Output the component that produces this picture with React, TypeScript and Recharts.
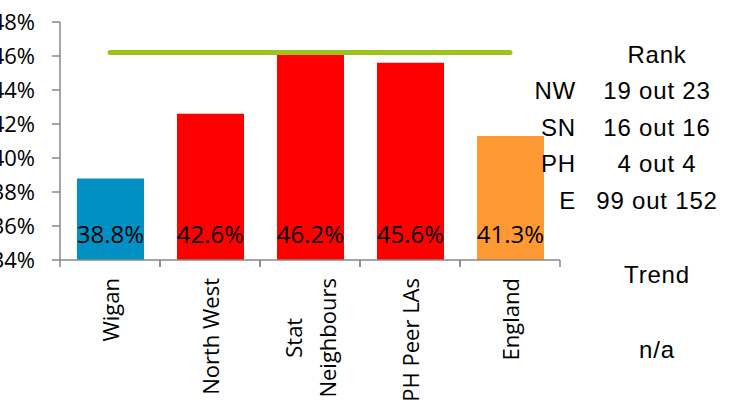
import { ComposedChart, Bar, Line, XAxis, YAxis, Cell, LabelList } from "recharts";

const categories = ["Wigan", "North West", "Stat\nNeighbours", "PH Peer LAs", "England"];
const rates = [38.8, 42.6, 46.2, 45.6, 41.3];
const benchmark = [46.2, 46.2, 46.2, 46.2, 46.2];
const barColors = ["#0090c4", "#ff0000", "#ff0000", "#ff0000", "#ff9933"];
const yTicks = [34, 36, 38, 40, 42, 44, 46, 48];
const rankGroups = ["NW", "SN", "PH", "E"];
const rankValues = ["19 out 23", "16 out 16", "4 out 4", "99 out 152"];
const trendValue = "n/a";

const data = categories.map((name, i) => ({ name, rate: rates[i], benchmark: benchmark[i] }));

const axisGrey = "#888888";
const labelFont = "22px 'Open Sans'";

let ctx: CanvasRenderingContext2D | null = null;
function textWidth(s: string) {
  if (!ctx) ctx = document.createElement("canvas").getContext("2d");
  if (!ctx) return s.length * 11;
  ctx.font = labelFont;
  return ctx.measureText(s).width;
}

// rotated category labels + tick marks between categories (Excel style)
function CategoryTick(props: any) {
  const { x, y, payload } = props;
  const half = payload.offset ?? 0;
  const lines = String(payload.value).split("\n");
  const widest = Math.max(...lines.map(textWidth));
  const mid = -18 - widest / 2;
  const gap = 34;
  return (
    <g>
      <line x1={x - half} x2={x - half} y1={y} y2={y + 7} stroke={axisGrey} strokeWidth={1.5} />
      <line x1={x + half} x2={x + half} y1={y} y2={y + 7} stroke={axisGrey} strokeWidth={1.5} />
      <g transform={`translate(${x},${y}) rotate(-90)`}>
        {lines.map((l, i) => (
          <text
            key={i}
            x={mid}
            y={(i - (lines.length - 1) / 2) * gap}
            textAnchor="middle"
            dominantBaseline="central"
            fontSize={22}
            fill="#000"
          >
            {l}
          </text>
        ))}
      </g>
    </g>
  );
}

const sideText: React.CSSProperties = {
  position: "absolute",
  fontFamily: "'Liberation Sans', Arial, sans-serif",
  fontSize: 24,
  letterSpacing: 0.8,
  color: "#000",
  whiteSpace: "nowrap",
  lineHeight: 1,
};

export default function App() {
  return (
    <div
      style={{
        position: "absolute",
        left: 0,
        top: 0,
        width: 742,
        height: 405,
        overflow: "hidden",
        background: "#fff",
        fontFamily: "'Open Sans', sans-serif",
      }}
    >
      <ComposedChart
        width={742}
        height={405}
        data={data}
        margin={{ top: 22, right: 182, left: 0, bottom: 0 }}
      >
        <XAxis
          dataKey="name"
          height={145}
          interval={0}
          tickLine={false}
          tickSize={0}
          tickMargin={0}
          axisLine={{ stroke: axisGrey, strokeWidth: 1.5 }}
          tick={<CategoryTick />}
        />
        <YAxis
          domain={[34, 48]}
          ticks={yTicks}
          interval={0}
          width={60}
          tickSize={8}
          tickMargin={17}
          tickFormatter={(v) => `${v}%`}
          axisLine={{ stroke: axisGrey, strokeWidth: 1.5 }}
          tickLine={{ stroke: axisGrey, strokeWidth: 1.5 }}
          tick={{ fill: "#000", fontSize: 22 }}
        />
        <Bar dataKey="rate" barSize={67} isAnimationActive={false}>
          {data.map((entry, index) => (
            <Cell key={`cell-${index}`} fill={barColors[index]} />
          ))}
          <LabelList
            dataKey="rate"
            position="insideBottom"
            offset={17}
            formatter={(v: any) => `${Number(v).toFixed(1)}%`}
            fill="#000"
            fontSize={24}
            fontFamily="'Liberation Sans Narrow', 'Open Sans', sans-serif"
          />
        </Bar>
        <Line
          dataKey="benchmark"
          stroke="#9bc31a"
          strokeWidth={5}
          strokeLinecap="round"
          dot={false}
          activeDot={false}
          isAnimationActive={false}
        />
      </ComposedChart>

      <div style={{ ...sideText, left: 657, top: 55, transform: "translate(-50%,-50%)" }}>Rank</div>
      {rankGroups.map((g, i) => (
        <div key={g}>
          <div style={{ ...sideText, right: 742 - 576, top: 91 + i * 36.5, transform: "translateY(-50%)" }}>{g}</div>
          <div style={{ ...sideText, left: 657, top: 91 + i * 36.5, transform: "translate(-50%,-50%)" }}>
            {rankValues[i]}
          </div>
        </div>
      ))}
      <div style={{ ...sideText, left: 657, top: 275, transform: "translate(-50%,-50%)" }}>Trend</div>
      <div style={{ ...sideText, left: 657, top: 350, transform: "translate(-50%,-50%)" }}>{trendValue}</div>
    </div>
  );
}
